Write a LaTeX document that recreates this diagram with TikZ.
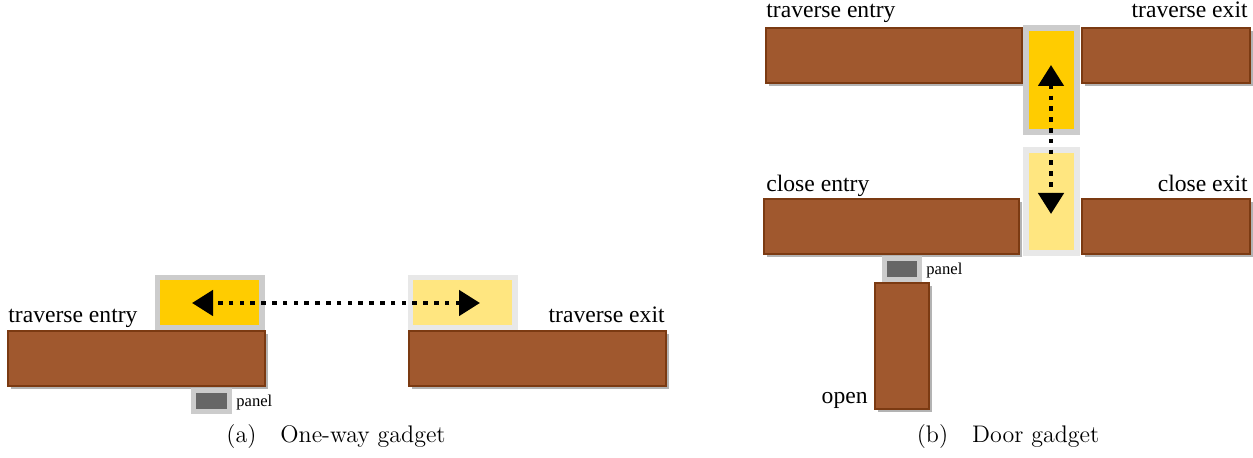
\documentclass[tikz,border=0pt]{standalone}
\usepackage{fontspec}
\setmainfont{Liberation Serif}
\newfontfamily\labfont{Liberation Serif}
\newfontfamily\capfont{Latin Modern Roman}
\usetikzlibrary{arrows.meta,shadows}

\definecolor{wall}{HTML}{A0582E}
\definecolor{wallrim}{HTML}{7B3A12}
\definecolor{gold}{HTML}{FFCC00}
\definecolor{pale}{HTML}{FFE680}
\definecolor{rimdark}{HTML}{CCCCCC}
\definecolor{rimlight}{HTML}{E8E8E8}
\definecolor{plate}{HTML}{666666}

\tikzset{
  bar/.style={fill=wall, draw=wallrim, line width=0.7pt,
    drop shadow={shadow xshift=1.4pt, shadow yshift=-1.4pt, opacity=0.6}},
  gateon/.style={fill=gold, draw=rimdark, line width=2.8pt,
    drop shadow={shadow xshift=0.9pt, shadow yshift=-0.9pt, opacity=0.35}},
  gateoff/.style={fill=pale, draw=rimlight, line width=2.8pt,
    drop shadow={shadow xshift=0.9pt, shadow yshift=-0.9pt, opacity=0.2}},
  plate/.style={fill=plate, draw=rimdark, line width=2.6pt},
  lab/.style={font=\labfont\fontsize{11.8}{14}\selectfont, inner sep=0pt},
  smalllab/.style={font=\labfont\fontsize{8.3}{10}\selectfont, inner sep=0pt},
  subcap/.style={font=\capfont\fontsize{12}{14}\selectfont, inner sep=0pt},
  move/.style={line width=2.3pt, dash pattern=on 2.3pt off 3.1pt,
    {Triangle[length=10.5pt,width=12.5pt]}-{Triangle[length=10.5pt,width=12.5pt]}}
}

\begin{document}
\begin{tikzpicture}[x=0.5pt,y=-0.5pt]
    \useasboundingbox (0,0) rectangle (1253,458);

    % (a) one-way gadget
    \draw[bar] (8,331) rectangle (265,386);
    \draw[bar] (409,331) rectangle (666,386);
    \draw[gateon] (157.5,277.5) rectangle (262,327.5);
    \draw[gateoff] (410.5,277.5) rectangle (515,327.5);
    \draw[plate] (193.5,390.5) rectangle (229.5,411.5);
    \coordinate (owL) at (192,303);
    \coordinate (owR) at (480,303);
    \draw[move] (owR) -- (owL);
    \node[lab, anchor=base west] (owentry) at (8,323) {traverse entry};
    \node[lab, anchor=base east] (owexit) at (665,323) {traverse exit};
    \node[smalllab, anchor=base west] (owpanel) at (236,407) {panel};
    \node[subcap, anchor=base] (capA) at (336,443) {(a)\quad One-way gadget};

    % (b) door gadget
    \draw[bar] (766,28) rectangle (1022,83);
    \draw[bar] (1082,28) rectangle (1250,83);
    \draw[bar] (764,199) rectangle (1019,254);
    \draw[bar] (1082,199) rectangle (1250,254);
    \draw[bar] (875,283) rectangle (929,409);
    \draw[gateon] (1026,28) rectangle (1077,132);
    \draw[gateoff] (1026,150) rectangle (1077,253);
    \draw[plate] (884.5,258.5) rectangle (919.5,279.5);
    \coordinate (drT) at (1051,65);
    \coordinate (drB) at (1051,214);
    \draw[move] (drT) -- (drB);
    \node[lab, anchor=base west] (drentry) at (766,18) {traverse entry};
    \node[lab, anchor=base east] (drexit) at (1248,18) {traverse exit};
    \node[lab, anchor=base west] (clentry) at (766,192) {close entry};
    \node[lab, anchor=base east] (clexit) at (1248,192) {close exit};
    \node[lab, anchor=base east] (dropen) at (868,404) {open};
    \node[smalllab, anchor=base west] (drpanel) at (926,275) {panel};
    \node[subcap, anchor=base] (capB) at (1008,443) {(b)\quad Door gadget};
\end{tikzpicture}
\end{document}
